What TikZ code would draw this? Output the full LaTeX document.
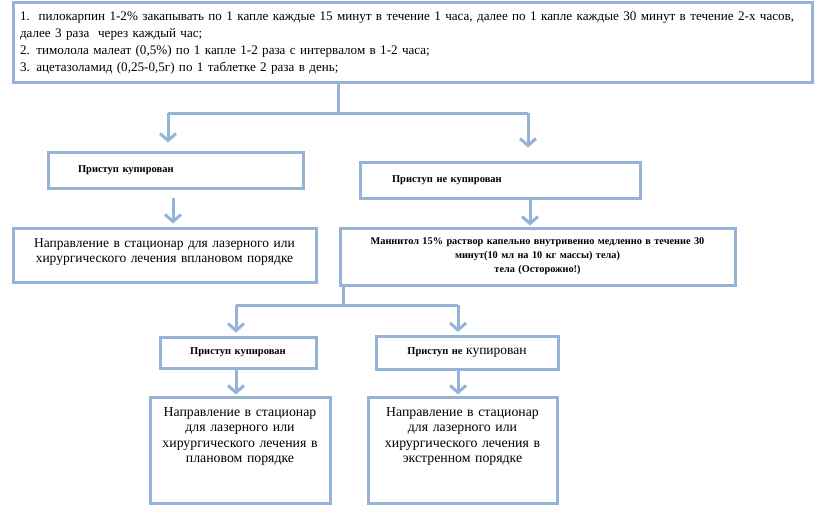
\documentclass[tikz,border=0pt]{standalone}
\usepackage{fontspec}
\setmainfont{Liberation Serif}
\usetikzlibrary{arrows.meta, positioning}
\definecolor{boxblue}{RGB}{149,179,215}

\begin{document}
\begin{tikzpicture}[x=1pt, y=-1pt,
    box/.style={draw=boxblue, line width=3pt, fill=white, inner sep=0pt},
    small/.style={box, font=\fontsize{10.5}{12}\selectfont\bfseries, align=left},
    bigbox/.style={box, font=\fontsize{13.8}{15.5}\selectfont, align=center},
    link/.style={draw=boxblue, line width=3pt},
    arr/.style={link, -{Straight Barb[length=7pt, width=16pt]}}
]
    \useasboundingbox (0,0) rectangle (833,511);

    % Treatment box
    \node[box, text width=785pt, inner xsep=7pt, minimum height=80pt, align=left,
          font=\fontsize{13.1}{17}\selectfont] (drops) at (412.5,43)
        {1.\ \ пилокарпин 1-2\% закапывать по 1 капле каждые 15 минут в течение 1 часа, далее по 1 капле каждые 30 минут в течение 2-х часов,\\
         далее 3 раза\ \ через каждый час;\\
         2. тимолола малеат (0,5\%) по 1 капле 1-2 раза с интервалом в 1-2 часа;\\
         3. ацетазоламид (0,25-0,5г) по 1 таблетке 2 раза в день;};

    % First outcome
    \node[small, text width=195pt, minimum height=36pt, inner xsep=30pt] (cup1) at (175.5,170) {Приступ купирован};
    \node[small, text width=216pt, minimum height=36pt, inner xsep=32pt] (nocup1) at (500,180) {Приступ не купирован};

    \node[bigbox, font=\fontsize{13.5}{15}\selectfont, text width=303pt, minimum height=54pt] (plan1) at (164.5,255)
        {Направление в стационар для лазерного или\\хирургического лечения вплановом порядке\\[-6pt]~};
    \node[box, text width=395pt, minimum height=57pt, align=center,
          font=\fontsize{10.3}{14}\selectfont\bfseries] (mannit) at (537.5,256.5)
        {Маннитол 15\% раствор капельно внутривенно медленно в течение 30\\минут(10 мл на 10 кг массы) тела)\\тела (Осторожно!)};

    % Second outcome
    \node[small, align=center, text width=156pt, minimum height=31pt] (cup2) at (238,352.5) {Приступ купирован};
    \node[small, align=center, text width=182pt, minimum height=33pt] (nocup2) at (467,353)
        {Приступ не {\fontsize{13.5}{15}\selectfont\mdseries купирован}};

    \node[bigbox, text width=180pt, minimum height=106pt] (plan2) at (240,450)
        {Направление в стационар\\для лазерного или\\хирургического лечения в\\плановом порядке\\[14.5pt]~};
    \node[bigbox, text width=189pt, minimum height=106pt] (urgent) at (462.5,450)
        {Направление в стационар\\для лазерного или\\хирургического лечения в\\экстренном порядке\\[14.5pt]~};

    % Fork points
    \coordinate (fork1) at (338,113);
    \coordinate (fork1l) at (168,113);
    \coordinate (fork1r) at (528,113);
    \coordinate (fork2) at (343,305);
    \coordinate (fork2l) at (236,305);
    \coordinate (fork2r) at (458,305);

    % Connectors from the treatment box
    \draw[link] (drops.south -| fork1) -- (fork1);
    \draw[link] (fork1l) -- (fork1r);
    \draw[arr, shorten >=8pt] (fork1l) -- (cup1.north -| fork1l);
    \draw[arr, shorten >=13pt] (fork1r) -- (nocup1.north -| fork1r);

    \draw[arr, shorten <=8pt, shorten >=3pt] (cup1.south -| 173,0) -- (plan1.north -| 173,0);
    \draw[arr, shorten >=1pt] (nocup1.south -| 530,0) -- (mannit.north -| 530,0);

    % Connectors from the mannitol box
    \draw[link] (mannit.south -| fork2) -- (fork2);
    \draw[link] (fork2l) -- (fork2r);
    \draw[arr, shorten >=3pt] (fork2l) -- (cup2.north -| fork2l);
    \draw[arr, shorten >=3pt] (fork2r) -- (nocup2.north -| fork2r);

    \draw[arr, shorten >=1pt] (cup2.south -| fork2l) -- (plan2.north -| fork2l);
    \draw[arr, shorten >=1pt] (nocup2.south -| fork2r) -- (urgent.north -| fork2r);
\end{tikzpicture}
\end{document}
